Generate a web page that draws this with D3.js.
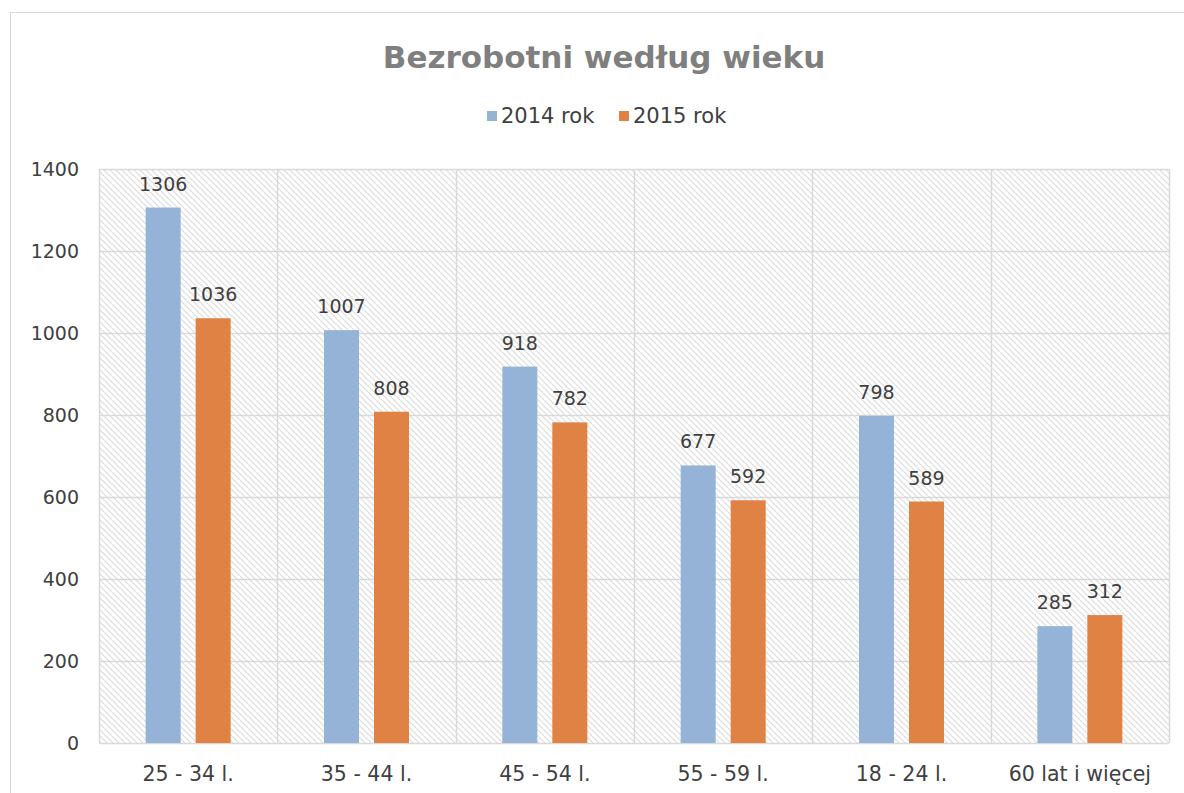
<!DOCTYPE html>
<html>
<head>
<meta charset="utf-8">
<script src="https://cdn.jsdelivr.net/npm/d3@7"></script>
<style>
  body { margin: 0; background: #fff; }
  svg text { font-family: "DejaVu Sans", "Open Sans", sans-serif; }
</style>
</head>
<body>
<svg id="chart" width="1184" height="793"></svg>
<script>
// data
var categories = ["25 - 34 l.", "35 - 44 l.", "45 - 54 l.", "55 - 59 l.", "18 - 24 l.", "60 lat i więcej"]
var series = ["2014 rok", "2015 rok"]
var values2014 = [1306, 1007, 918, 677, 798, 285]
var values2015 = [1036, 808, 782, 592, 589, 312]
var yTicks = [0, 200, 400, 600, 800, 1000, 1200, 1400]
var colors = ["#95b3d7", "#df8244"]

var svg = d3.select("#chart")
var margin = {top: 169, right: 15, bottom: 50, left: 99}

// outer chart border
svg.append("rect")
    .attr("x", 10.5).attr("y", 12.5)
    .attr("width", 1190).attr("height", 800)
    .attr("fill", "#fff")
    .attr("stroke", "#d9d9d9")

// hatch pattern for plot background
var defs = svg.append("defs")
var pat = defs.append("pattern")
    .attr("id", "hatch")
    .attr("patternUnits", "userSpaceOnUse")
    .attr("width", 6).attr("height", 6)
pat.append("rect").attr("width", 6).attr("height", 6).attr("fill", "#fff")
pat.append("path")
    .attr("d", "M-1,-1 L7,7 M-1,5 L1,7 M5,-1 L7,1")
    .attr("stroke", "#dcdcdc")
    .attr("stroke-width", 1.1)

var x = d3.scaleBand()
    .domain(categories)
    .range([margin.left, 1169])

var y = d3.scaleLinear()
    .domain([0, 1400])
    .range([743, margin.top])

svg.append("rect")
    .attr("x", x.range()[0]).attr("y", y(1400))
    .attr("width", x.range()[1] - x.range()[0])
    .attr("height", y(0) - y(1400))
    .attr("fill", "url(#hatch)")

// horizontal gridlines
svg.append("g")
    .selectAll("line")
    .data(yTicks)
    .join("line")
    .attr("x1", x.range()[0]).attr("x2", x.range()[1])
    .attr("y1", d => Math.round(y(d)) + 0.5)
    .attr("y2", d => Math.round(y(d)) + 0.5)
    .attr("stroke", "#d9d9d9")
    .attr("stroke-width", 1.5)

// vertical category separators
var bounds = categories.map(c => x(c)).concat([x.range()[1]])
svg.append("g")
    .selectAll("line")
    .data(bounds)
    .join("line")
    .attr("x1", d => Math.round(d) + 0.5).attr("x2", d => Math.round(d) + 0.5)
    .attr("y1", y(1400)).attr("y2", y(0))
    .attr("stroke", "#d9d9d9")
    .attr("stroke-width", 1.5)

// bars
var bw = 35
var offs = [-25, 25]
var allSeries = [values2014, values2015]
allSeries.forEach(function(vals, si) {
    var g = svg.append("g")
    g.selectAll("rect")
        .data(vals)
        .join("rect")
        .attr("x", (d, i) => x(categories[i]) + x.bandwidth() / 2 + offs[si] - bw / 2)
        .attr("y", d => y(d))
        .attr("width", bw)
        .attr("height", d => y(0) - y(d))
        .attr("fill", colors[si])
    g.selectAll("text")
        .data(vals)
        .join("text")
        .attr("x", (d, i) => x(categories[i]) + x.bandwidth() / 2 + offs[si])
        .attr("y", d => y(d) - 17)
        .attr("text-anchor", "middle")
        .attr("font-size", 19)
        .attr("fill", "#404040")
        .text(d => d)
})

// y axis labels
svg.append("g")
    .selectAll("text")
    .data(yTicks)
    .join("text")
    .attr("x", 79)
    .attr("y", d => y(d))
    .attr("dy", "0.35em")
    .attr("text-anchor", "end")
    .attr("font-size", 19)
    .attr("fill", "#404040")
    .text(d => d)

// x axis labels
svg.append("g")
    .selectAll("text")
    .data(categories)
    .join("text")
    .attr("x", d => x(d) + x.bandwidth() / 2)
    .attr("y", 774)
    .attr("dy", "0.35em")
    .attr("text-anchor", "middle")
    .attr("font-size", 20.5)
    .attr("fill", "#404040")
    .text(d => d)

// title
svg.append("text")
    .attr("x", 604)
    .attr("y", 68)
    .attr("text-anchor", "middle")
    .attr("font-size", 31)
    .attr("font-weight", "bold")
    .attr("fill", "#7f7f7f")
    .text("Bezrobotni według wieku")

// legend
var legendX = [487, 619]
series.forEach(function(s, i) {
    svg.append("rect")
        .attr("x", legendX[i]).attr("y", 111)
        .attr("width", 10).attr("height", 10)
        .attr("fill", colors[i])
    svg.append("text")
        .attr("x", legendX[i] + 14)
        .attr("y", 116)
        .attr("dy", "0.35em")
        .attr("font-size", 21)
        .attr("fill", "#404040")
        .text(s)
})
</script>
</body>
</html>
